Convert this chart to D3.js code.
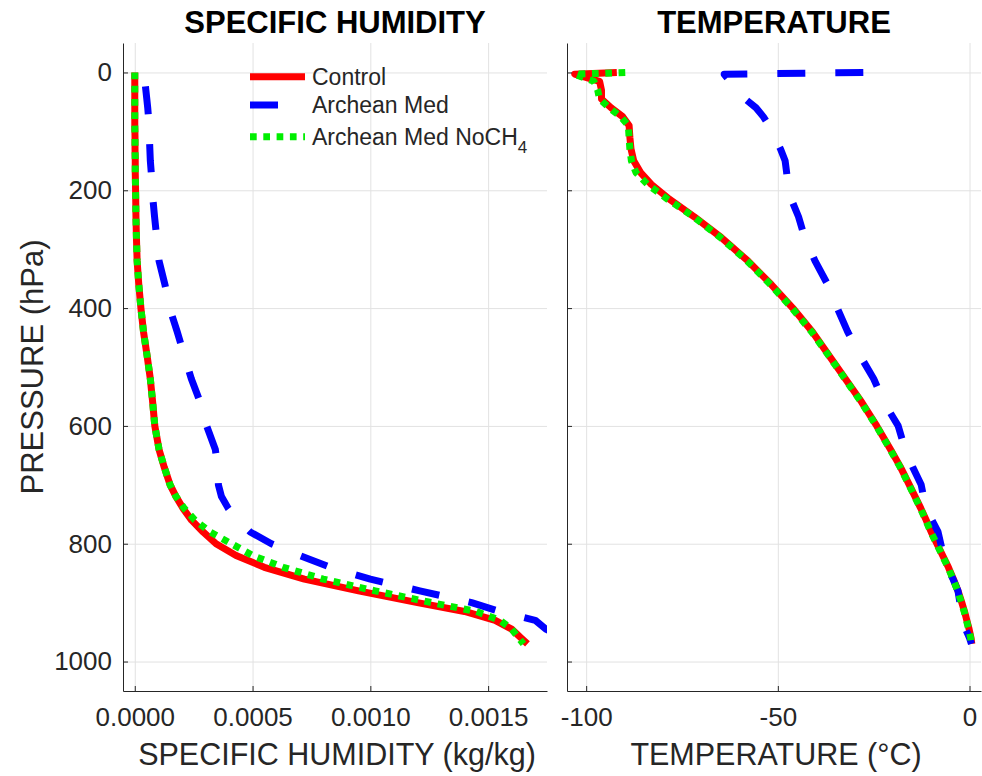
<!DOCTYPE html>
<html>
<head>
<meta charset="utf-8">
<script src="https://cdn.jsdelivr.net/npm/d3@7"></script>
<style>
  body { margin: 0; background: #fff; }
  svg { font-family: "Liberation Sans", Arial, Helvetica, sans-serif; }
</style>
</head>
<body>
<div id="chart"></div>
<script>
const width = 982
const height = 776

// pressure levels (hPa), shared by every profile
const pressure = [0, 3, 15, 30, 45, 60, 75, 90, 110, 130, 150, 170, 190, 215, 245, 280, 320, 360, 400, 440, 480, 520, 560, 600, 640, 670, 700, 720, 740, 760, 780, 800, 820, 840, 860, 880, 900, 915, 930, 945, 960, 970]

// specific humidity (kg/kg)
const qControl = [0, 0, 0, 0, 0, 0, 0, 0, 0.000001, 0.000001, 0.000002, 0.000002, 0.000003, 0.000004, 0.000005, 0.000007, 0.00001, 0.000017, 0.000026, 0.000037, 0.000052, 0.000066, 0.000076, 0.000085, 0.000103, 0.000125, 0.00015, 0.000175, 0.000205, 0.000241, 0.00029, 0.000345, 0.00043, 0.00055, 0.00072, 0.00095, 0.0012, 0.0014, 0.00153, 0.0016, 0.00164, 0.001667]
const qArchean = [0.00004, 0.000041, 0.000043, 0.000047, 0.000051, 0.000055, 0.000058, 0.00006, 0.000062, 0.000064, 0.000066, 0.00007, 0.000073, 0.000077, 0.000084, 0.000093, 0.000103, 0.000128, 0.000148, 0.00018, 0.00021, 0.00024, 0.000278, 0.000305, 0.000342, 0.000352, 0.000355, 0.000368, 0.000397, 0.000435, 0.00049, 0.00058, 0.0007, 0.00083, 0.001, 0.00121, 0.00143, 0.00155, 0.0017, 0.001745, 0.00182, 0.0019]
const qNoCH4 = [0, 0, 0, 0, 0, 0, 0, 0, 0.000001, 0.000001, 0.000002, 0.000002, 0.000003, 0.000004, 0.000005, 0.000007, 0.00001, 0.000017, 0.000026, 0.000037, 0.000052, 0.000066, 0.000076, 0.000085, 0.000103, 0.000125, 0.00015, 0.000175, 0.00021, 0.000255, 0.00032, 0.00041, 0.0005, 0.00063, 0.0008, 0.00102, 0.00126, 0.00145, 0.00155, 0.0016, 0.00163, 0.00165]

// temperature (°C)
const tControl = [-92, -103, -96.5, -96, -96, -93.5, -90.5, -88.8, -88.6, -88.3, -87.6, -85.8, -83, -78.3, -71.8, -64.8, -57.8, -51.7, -46.1, -41, -36.7, -32.4, -28.1, -24.2, -20.6, -18, -15.7, -14.2, -12.7, -11.3, -10, -8.5, -7, -5.5, -4.2, -3, -2, -1.3, -0.7, -0.1, 0.4, 0.6]
const tArchean = [-27.7, -64, -62.5, -61, -58.5, -55.7, -53.8, -52.3, -50.8, -49.3, -48.1, -47.7, -47.4, -46.5, -44.6, -43, -40.3, -37, -34.5, -31.8, -28.6, -25, -22.3, -18.6, -16.8, -14.8, -12.6, -12, -11.2, -9.8, -8.2, -7.5, -6.8, -5.8, -4.3, -3, -2.5, -2.3, -2, -1, 0, 0.5]
const tNoCH4 = [-89.8, -103, -98, -97, -96.5, -94, -91, -89, -88.8, -88.6, -88.2, -87, -84, -78.8, -72, -65, -58, -51.9, -46.3, -41.2, -36.8, -32.5, -28.2, -24.3, -20.7, -18.1, -15.8, -14.3, -12.8, -11.4, -10.1, -8.6, -7.1, -5.6, -4.3, -3.1, -2.1, -1.4, -0.8, -0.2, 0.3, 0.5]

const seriesNames = ['Control', 'Archean Med', 'Archean Med NoCH4']
const pressureTicks = [0, 200, 400, 600, 800, 1000]
const humidityTicks = [0, 0.0005, 0.001, 0.0015]
const temperatureTicks = [-100, -50, 0]

const plotTop = 43
const plotBottom = 691

// line styles: red solid, blue dashed, green dotted
const styles = [
  { color: '#ff0000', dash: null },
  { color: '#0000ff', dash: '28 30' },
  { color: '#00ee00', dash: '6.7 6.6' }
]
const lineWidth = 7
const textColor = '#262626'

const svg = d3
  .select('#chart')
  .append('svg')
  .attr('width', width)
  .attr('height', height)

const y = d3.scaleLinear().domain([-50, 1050]).range([plotTop, plotBottom])

const xq = d3.scaleLinear().domain([-0.00005, 0.00175]).range([123, 547])
const xt = d3.scaleLinear().domain([-105, 3]).range([567, 981])

// plain hyphen minus, like the original
const intFormat = d => String(d)

function drawPanel(id, x, ticks, fmt, series, title, xlabel, showYLabels, dashOffset) {
  const g = svg.append('g').attr('class', id)
  const [x0, x1] = x.range()

  g.append('clipPath')
    .attr('id', 'clip-' + id)
    .append('rect')
    .attr('x', x0)
    .attr('y', plotTop)
    .attr('width', x1 - x0)
    .attr('height', plotBottom - plotTop)

  // grid
  const grid = g.append('g').attr('class', 'grid')
  grid
    .append('g')
    .attr('transform', `translate(0,${plotBottom})`)
    .call(d3.axisBottom(x).tickValues(ticks).tickSize(-(plotBottom - plotTop)).tickFormat(''))
  grid
    .append('g')
    .attr('transform', `translate(${x0},0)`)
    .call(d3.axisLeft(y).tickValues(pressureTicks).tickSize(-(x1 - x0)).tickFormat(''))
  grid.selectAll('.domain').remove()
  grid.selectAll('line').attr('stroke', '#e2e2e2').attr('stroke-width', 1)

  // profiles
  const line = d3
    .line()
    .x(d => x(d[0]))
    .y(d => y(d[1]))

  const lines = g.append('g').attr('clip-path', `url(#clip-${id})`)
  series.forEach(function(values, i) {
    lines
      .append('path')
      .datum(d3.zip(values, pressure))
      .attr('d', line)
      .attr('fill', 'none')
      .attr('stroke', styles[i].color)
      .attr('stroke-width', lineWidth)
      .attr('stroke-linejoin', 'round')
      .attr('stroke-dasharray', styles[i].dash)
      .attr('stroke-dashoffset', i === 1 ? dashOffset : 0)
  })

  // axes, ticks pointing inward
  const xAxis = g
    .append('g')
    .attr('transform', `translate(0,${plotBottom})`)
    .call(
      d3.axisBottom(x)
        .tickValues(ticks)
        .tickFormat(fmt)
        .tickSizeInner(-5)
        .tickSizeOuter(0)
        .tickPadding(17)
    )
  const yAxis = g
    .append('g')
    .attr('transform', `translate(${x0},0)`)
    .call(
      d3.axisLeft(y)
        .tickValues(pressureTicks)
        .tickFormat(showYLabels ? intFormat : '')
        .tickSizeInner(-5)
        .tickSizeOuter(0)
        .tickPadding(11)
    )
  ;[xAxis, yAxis].forEach(function(a) {
    a.attr('font-family', null)
    a.select('.domain').attr('stroke', textColor)
    a.selectAll('.tick line').attr('stroke', textColor)
    a.selectAll('text').attr('font-size', 26).attr('fill', textColor)
  })

  // title and x label
  g.append('text')
    .attr('x', (x0 + x1) / 2)
    .attr('y', 33)
    .attr('text-anchor', 'middle')
    .attr('font-size', 31)
    .attr('font-weight', 'bold')
    .attr('fill', '#000')
    .text(title)

  g.append('text')
    .attr('x', (x0 + x1) / 2 + 2)
    .attr('y', 765)
    .attr('text-anchor', 'middle')
    .attr('font-size', 30.5)
    .attr('fill', textColor)
    .text(xlabel)

  return g
}

const left = drawPanel(
  'humidity',
  xq,
  humidityTicks,
  d3.format('.4f'),
  [qControl, qArchean, qNoCH4],
  'SPECIFIC HUMIDITY',
  'SPECIFIC HUMIDITY (kg/kg)',
  true,
  44
)

drawPanel(
  'temperature',
  xt,
  temperatureTicks,
  intFormat,
  [tControl, tArchean, tNoCH4],
  'TEMPERATURE',
  'TEMPERATURE (°C)',
  false,
  0
)

// y label
svg
  .append('text')
  .attr('transform', `translate(43,${(plotTop + plotBottom) / 2}) rotate(-90)`)
  .attr('text-anchor', 'middle')
  .attr('font-size', 31)
  .attr('fill', textColor)
  .text('PRESSURE (hPa)')

// legend
const legend = left.append('g').attr('class', 'legend')
const legendRows = [76.7, 105, 136.7]
seriesNames.forEach(function(name, i) {
  legend
    .append('line')
    .attr('x1', 250)
    .attr('x2', 305)
    .attr('y1', legendRows[i])
    .attr('y2', legendRows[i])
    .attr('stroke', styles[i].color)
    .attr('stroke-width', lineWidth)
    .attr('stroke-dasharray', styles[i].dash)

  const label = legend
    .append('text')
    .attr('x', 312)
    .attr('y', legendRows[i])
    .attr('dy', '0.35em')
    .attr('font-size', 23)
    .attr('fill', textColor)

  if (name.endsWith('CH4')) {
    label.append('tspan').text(name.slice(0, -1))
    label
      .append('tspan')
      .attr('font-size', 17)
      .attr('dy', 8)
      .text('4')
  } else {
    label.text(name)
  }
})
</script>
</body>
</html>
